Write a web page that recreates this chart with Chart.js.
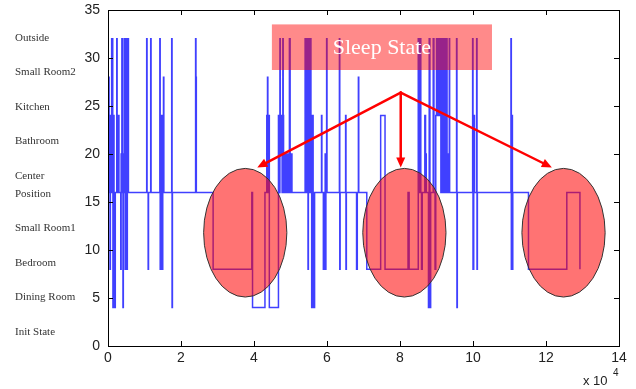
<!DOCTYPE html>
<html>
<head>
<meta charset="utf-8">
<script src="https://cdn.jsdelivr.net/npm/chart.js@4"></script>
<style>
  html, body { margin: 0; padding: 0; background: #fff; }
</style>
</head>
<body>
<canvas id="chart" width="636" height="389"></canvas>
<script>
// time axis in units of 10^4; each state holds from its time until the next entry
const times = [
  0.000, 0.005, 0.030, 0.040, 0.055, 0.065, 0.080, 0.100, 0.110, 0.125,
  0.130, 0.135, 0.150, 0.165, 0.190, 0.200, 0.240, 0.250, 0.270, 0.280,
  0.300, 0.350, 0.360, 0.370, 0.380, 0.390, 0.400, 0.410, 0.420, 0.440,
  0.450, 0.460, 0.470, 0.480, 0.490, 0.500, 0.510, 0.520, 0.530, 0.540,
  0.550, 0.560, 1.060, 1.070, 1.100, 1.110, 1.170, 1.180, 1.420, 1.430,
  1.450, 1.460, 1.480, 1.490, 1.500, 1.520, 1.530, 1.745, 1.755, 1.765,
  2.400, 2.410, 2.420, 2.880, 3.940, 3.960, 4.300, 4.350, 4.370, 4.380,
  4.400, 4.420, 4.670, 4.690, 4.710, 4.720, 4.740, 4.750, 4.770, 4.790,
  4.800, 4.810, 4.830, 4.850, 4.870, 4.890, 4.910, 4.930, 4.950, 4.970,
  4.990, 5.010, 5.030, 5.040, 5.400, 5.410, 5.440, 5.450, 5.480, 5.490,
  5.500, 5.520, 5.530, 5.550, 5.560, 5.570, 5.580, 5.600, 5.610, 5.620,
  5.660, 5.850, 5.860, 5.900, 5.920, 5.950, 5.960, 5.970, 5.990, 6.000,
  6.340, 6.350, 6.360, 6.510, 6.520, 6.530, 6.810, 6.830, 6.860, 6.870,
  7.090, 7.470, 7.590, 8.220, 8.250, 8.500, 8.520, 8.550, 8.570, 8.590,
  8.610, 8.680, 8.700, 8.720, 8.780, 8.800, 8.820, 8.840, 8.910, 8.930,
  8.960, 8.980, 9.000, 9.020, 9.040, 9.060, 9.080, 9.100, 9.120, 9.140,
  9.160, 9.190, 9.210, 9.240, 9.260, 9.280, 9.290, 9.320, 9.350, 9.360,
  9.550, 9.560, 9.570, 9.990, 10.000, 10.020, 10.040, 10.100, 10.110, 10.120,
  11.040, 11.050, 11.070, 11.080, 11.090, 11.520, 12.570, 12.930
];
const states = [
  0, 28, 16, 24, 8, 24, 16, 32, 24, 32,
  16, 4, 24, 16, 4, 16, 32, 24, 16, 24,
  16, 8, 20, 16, 32, 20, 16, 4, 20, 32,
  20, 16, 8, 32, 24, 16, 24, 8, 32, 24,
  32, 16, 32, 16, 8, 16, 32, 16, 32, 8,
  24, 8, 24, 8, 24, 28, 16, 32, 4, 16,
  32, 28, 16, 8, 16, 4, 16, 24, 28, 16,
  24, 4, 24, 16, 32, 20, 24, 20, 16, 32,
  24, 20, 16, 20, 16, 20, 16, 20, 16, 32,
  20, 16, 20, 16, 32, 16, 32, 16, 8, 32,
  16, 32, 16, 32, 24, 20, 4, 20, 24, 4,
  16, 24, 16, 8, 16, 20, 8, 16, 32, 16,
  32, 8, 16, 24, 8, 16, 8, 16, 28, 16,
  8, 24, 8, 16, 8, 32, 16, 32, 16, 8,
  16, 24, 20, 16, 4, 32, 4, 16, 32, 16,
  8, 24, 32, 24, 32, 24, 32, 24, 16, 32,
  16, 32, 16, 32, 16, 32, 20, 16, 32, 16,
  32, 4, 16, 32, 8, 24, 16, 32, 8, 16,
  32, 8, 24, 8, 16, 8, 16, 8
];
const stateNames = [
  'Outside', 'Small Room2', 'Kitchen', 'Bathroom', ['Center', 'Position'],
  'Small Room1', 'Bedroom', 'Dining Room', 'Init State'
];
const sleepCenters = [3.76, 8.12, 12.48];
const calloutText = 'Sleep State';

const points = times.map((t, i) => ({ x: t, y: states[i] }));

// callout geometry, in data units
const ELLIPSE_Y = 11.8, ELLIPSE_RX = 1.14, ELLIPSE_RY = 6.7;
const BOX = { x0: 4.49, x1: 10.52, y0: 28.75, y1: 33.5 };
const ARROW_FROM = { x: 8.02, y: 26.4 };
const ARROW_TIP_Y = 18.6;
const ARROW_TIPS = [4.09, 8.02, 12.16];

function drawArrow(ctx, x1, y1, x2, y2) {
  const ang = Math.atan2(y2 - y1, x2 - x1);
  const head = 10, half = 4.5;
  const bx = x2 - head * Math.cos(ang), by = y2 - head * Math.sin(ang);
  ctx.beginPath();
  ctx.moveTo(x1, y1);
  ctx.lineTo(bx, by);
  ctx.stroke();
  ctx.beginPath();
  ctx.moveTo(x2, y2);
  ctx.lineTo(bx + half * Math.sin(ang), by - half * Math.cos(ang));
  ctx.lineTo(bx - half * Math.sin(ang), by + half * Math.cos(ang));
  ctx.closePath();
  ctx.fill();
}

const calloutPlugin = {
  id: 'callout',
  afterDatasetsDraw(chart) {
    const { ctx, scales: { x, y } } = chart;
    ctx.save();

    // sleep ellipses
    sleepCenters.forEach((c) => {
      const cx = x.getPixelForValue(c);
      const cy = y.getPixelForValue(ELLIPSE_Y);
      const rx = x.getPixelForValue(c + ELLIPSE_RX) - cx;
      const ry = cy - y.getPixelForValue(ELLIPSE_Y + ELLIPSE_RY);
      ctx.beginPath();
      ctx.ellipse(cx, cy, rx, ry, 0, 0, Math.PI * 2);
      ctx.fillStyle = 'rgba(255, 0, 0, 0.55)';
      ctx.fill();
      ctx.strokeStyle = '#333';
      ctx.lineWidth = 1;
      ctx.stroke();
    });

    // arrows
    ctx.strokeStyle = '#ff0000';
    ctx.fillStyle = '#ff0000';
    ctx.lineWidth = 2.5;
    ctx.lineCap = 'round';
    const ox = x.getPixelForValue(ARROW_FROM.x);
    const oy = y.getPixelForValue(ARROW_FROM.y);
    ARROW_TIPS.forEach((t) => {
      drawArrow(ctx, ox, oy, x.getPixelForValue(t), y.getPixelForValue(ARROW_TIP_Y));
    });

    // label box
    const bx0 = x.getPixelForValue(BOX.x0), bx1 = x.getPixelForValue(BOX.x1);
    const by0 = y.getPixelForValue(BOX.y1), by1 = y.getPixelForValue(BOX.y0);
    ctx.fillStyle = 'rgba(255, 0, 0, 0.46)';
    ctx.fillRect(bx0, by0, bx1 - bx0, by1 - by0);
    ctx.fillStyle = '#ffffff';
    ctx.font = '22px "Liberation Serif"';
    ctx.textAlign = 'center';
    ctx.textBaseline = 'middle';
    ctx.fillText(calloutText, (bx0 + bx1) / 2, (by0 + by1) / 2 + 1);
    ctx.restore();
  },
  afterDraw(chart) {
    const { ctx, chartArea: a, scales: { x, y } } = chart;
    ctx.save();

    // box with inward ticks on all sides
    ctx.strokeStyle = '#000';
    ctx.lineWidth = 1;
    ctx.strokeRect(a.left + 0.5, a.top + 0.5, a.right - a.left, a.bottom - a.top);
    ctx.beginPath();
    x.ticks.forEach((t) => {
      const px = Math.round(x.getPixelForValue(t.value)) + 0.5;
      ctx.moveTo(px, a.bottom); ctx.lineTo(px, a.bottom - 5);
      ctx.moveTo(px, a.top); ctx.lineTo(px, a.top + 5);
    });
    y.ticks.forEach((t) => {
      const py = Math.round(y.getPixelForValue(t.value)) + 0.5;
      ctx.moveTo(a.left, py); ctx.lineTo(a.left + 5, py);
      ctx.moveTo(a.right, py); ctx.lineTo(a.right - 5, py);
    });
    ctx.stroke();

    // state names on the left
    ctx.fillStyle = '#333';
    ctx.font = '11px "Liberation Serif"';
    ctx.textAlign = 'left';
    ctx.textBaseline = 'middle';
    let ly = 38;
    stateNames.forEach((name) => {
      const lines = Array.isArray(name) ? name : [name];
      lines.forEach((ln, j) => ctx.fillText(ln, 15, ly + j * 18));
      ly += 34.5 + (lines.length - 1) * 18;
    });

    // exponent label
    ctx.fillStyle = '#222';
    ctx.font = '13px "Liberation Sans"';
    ctx.textAlign = 'left';
    ctx.fillText('x 10', 583, 381);
    ctx.font = '10px "Liberation Sans"';
    ctx.fillText('4', 613, 373);
    ctx.restore();
  }
};

new Chart(document.getElementById('chart'), {
  type: 'line',
  data: {
    datasets: [{
      data: points,
      stepped: 'before',
      borderColor: 'rgba(0, 0, 255, 0.75)',
      borderWidth: 1.5,
      pointRadius: 0,
      tension: 0,
      fill: false
    }]
  },
  options: {
    responsive: false,
    animation: false,
    parsing: false,
    layout: { padding: { top: 10, right: 17, left: 0, bottom: 0 } },
    plugins: {
      legend: { display: false },
      tooltip: { enabled: false }
    },
    scales: {
      x: {
        type: 'linear',
        min: 0,
        max: 14,
        afterFit: (s) => { s.height = 43; },
        ticks: {
          stepSize: 2,
          color: '#222',
          padding: 4,
          maxRotation: 0,
          font: { family: 'Liberation Sans', size: 14 }
        },
        grid: { display: false, drawTicks: false },
        border: { display: false }
      },
      y: {
        min: 0,
        max: 35,
        afterFit: (s) => { s.width = 108; s.paddingTop = 0; },
        ticks: {
          stepSize: 5,
          color: '#222',
          padding: 8,
          font: { family: 'Liberation Sans', size: 14 }
        },
        grid: { display: false, drawTicks: false },
        border: { display: false }
      }
    }
  },
  plugins: [calloutPlugin]
});
</script>
</body>
</html>
